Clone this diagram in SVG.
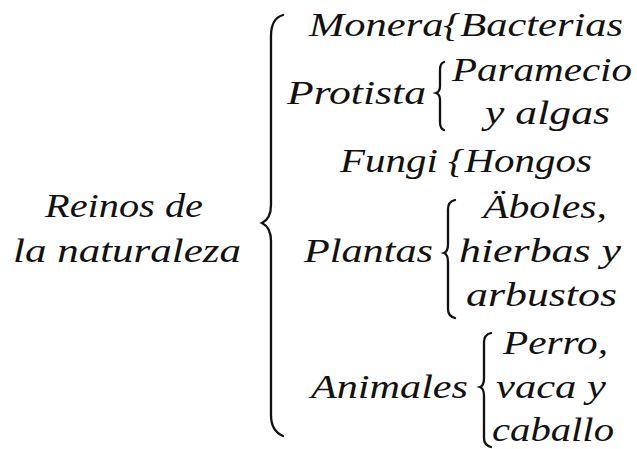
<svg xmlns="http://www.w3.org/2000/svg" width="637" height="449" viewBox="0 0 637 449">
<style>
.t{font-family:"Liberation Serif","DejaVu Serif",serif;font-style:italic;font-size:33px;fill:#111}
.b{fill:none;stroke:#111;stroke-width:2.3;stroke-linecap:round}
</style>
<rect width="637" height="449" fill="#fff"/>
<g id="connectors">
<path class="b" d="M283,15 C276,17 271,24 271,36 L271,205 C271,215 268,220 262,223 C268,226 271,231 271,241 L271,415 C271,426 276,433 283,436"/>
<path class="b" d="M444,62 C441,63 440,66 440,70 L440,86 C440,90 439,92 436,93 C439,94 440,96 440,100 L440,122 C440,126 441,129 444,130"/>
<path class="b" d="M455,200 C451,201 448,204 448,209 L448,244 C448,249 447,252 444,253 C447,254 448,257 448,262 L448,309 C448,314 451,317 455,318"/>
<path class="b" d="M491,333 C487,334 484,337 484,342 L484,378 C484,383 483,386 480,387 C483,388 484,391 484,396 L484,438 C484,443 487,446 491,447"/>
</g>
<g id="root"><text class="t" x="45" y="217" textLength="158" lengthAdjust="spacingAndGlyphs">Reinos de</text><text class="t" x="13" y="262" textLength="228" lengthAdjust="spacingAndGlyphs">la naturaleza</text></g>
<g id="monera"><text class="t" x="309" y="36" textLength="314" lengthAdjust="spacingAndGlyphs">Monera{Bacterias</text></g>
<g id="protista"><text class="t" x="287" y="104" textLength="139" lengthAdjust="spacingAndGlyphs">Protista</text><text class="t" x="452" y="81" textLength="180" lengthAdjust="spacingAndGlyphs">Paramecio</text><text class="t" x="485" y="124" textLength="125" lengthAdjust="spacingAndGlyphs">y algas</text></g>
<g id="fungi"><text class="t" x="340" y="172" textLength="252" lengthAdjust="spacingAndGlyphs">Fungi {Hongos</text></g>
<g id="plantas"><text class="t" x="304" y="262" textLength="129" lengthAdjust="spacingAndGlyphs">Plantas</text><text class="t" x="483" y="218" textLength="124" lengthAdjust="spacingAndGlyphs">Äboles,</text><text class="t" x="459" y="262" textLength="162" lengthAdjust="spacingAndGlyphs">hierbas y</text><text class="t" x="466" y="306" textLength="151" lengthAdjust="spacingAndGlyphs">arbustos</text></g>
<g id="animales"><text class="t" x="311" y="398" textLength="157" lengthAdjust="spacingAndGlyphs">Animales</text><text class="t" x="503" y="354" textLength="105" lengthAdjust="spacingAndGlyphs">Perro,</text><text class="t" x="496" y="398" textLength="110" lengthAdjust="spacingAndGlyphs">vaca y</text><text class="t" x="492" y="441" textLength="122" lengthAdjust="spacingAndGlyphs">caballo</text></g>
</svg>
